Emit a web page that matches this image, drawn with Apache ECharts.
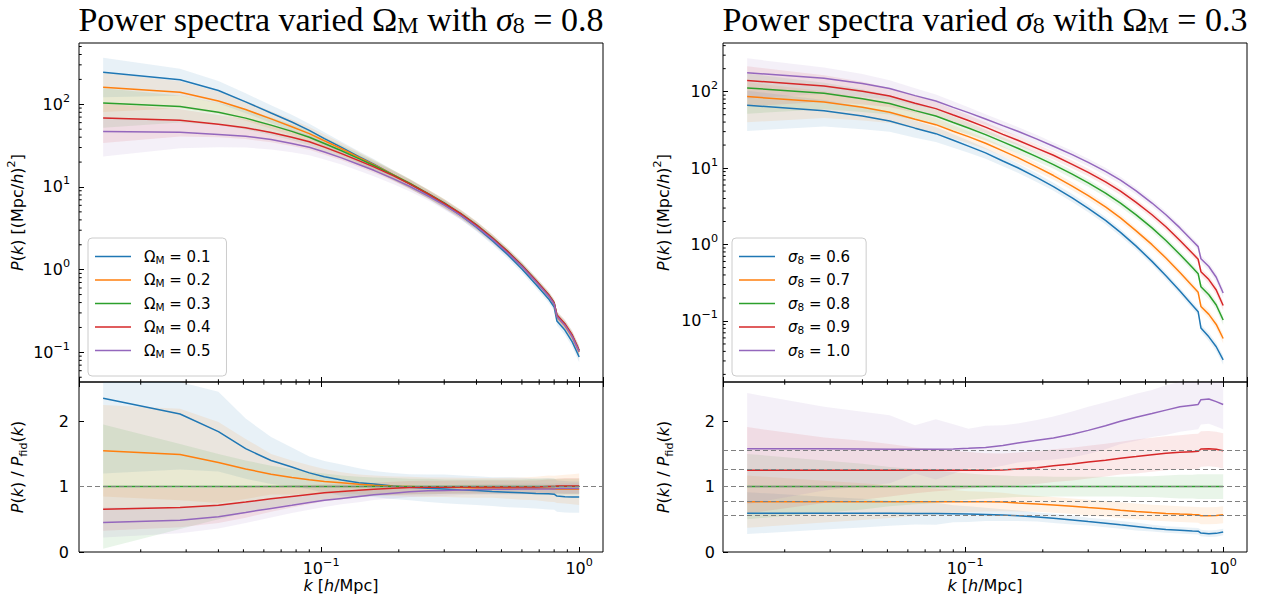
<!DOCTYPE html>
<html><head><meta charset="utf-8">
<script src="https://cdn.jsdelivr.net/npm/echarts@6/dist/echarts.min.js"></script>
<style>html,body{margin:0;padding:0;background:#fff}#c{width:1264px;height:601px}</style>
</head><body><div id="c"></div>
<script>
// ---------- data ----------
const k = [0.0143, 0.0284, 0.040, 0.051, 0.064, 0.077, 0.090, 0.103, 0.12, 0.14, 0.16, 0.19, 0.22, 0.26, 0.30, 0.35, 0.40, 0.46, 0.53, 0.60, 0.68, 0.76, 0.80, 0.82, 0.88, 0.94, 1.0];

const namesOm = ['Ω_M = 0.1', 'Ω_M = 0.2', 'Ω_M = 0.3', 'Ω_M = 0.4', 'Ω_M = 0.5'];
const namesSig = ['σ_8 = 0.6', 'σ_8 = 0.7', 'σ_8 = 0.8', 'σ_8 = 0.9', 'σ_8 = 1.0'];

// left: P(k) for varied Omega_M
const pOm1 = [244, 198, 147, 107, 78.4, 61.1, 48.4, 38.5, 30.1, 23.3, 18.9, 14.1, 11.0, 8.11, 6.18, 4.47, 3.27, 2.26, 1.51, 1.02, 0.663, 0.446, 0.354, 0.239, 0.186, 0.134, 0.088];
const pOm2 = [161, 140, 109.6, 86.4, 66.6, 53.6, 44.2, 36.2, 29.0, 22.8, 18.6, 14.1, 11.1, 8.24, 6.34, 4.63, 3.41, 2.39, 1.61, 1.10, 0.719, 0.486, 0.386, 0.269, 0.211, 0.154, 0.101];
const pOm3 = [104, 94, 80, 68, 56, 47, 40, 33.5, 27.4, 22.0, 18.2, 14.0, 11.1, 8.32, 6.40, 4.70, 3.48, 2.44, 1.65, 1.13, 0.741, 0.501, 0.40, 0.28, 0.22, 0.16, 0.105];
const pOm4 = [68.1, 63.9, 57.2, 52, 45.6, 40, 35.2, 30.3, 25.3, 20.8, 17.5, 13.7, 10.9, 8.24, 6.34, 4.68, 3.46, 2.43, 1.64, 1.12, 0.737, 0.501, 0.40, 0.283, 0.222, 0.162, 0.106];
const pOm5 = [46.8, 45.8, 43.2, 41.1, 37.4, 33.6, 30.3, 26.5, 22.5, 18.7, 15.9, 12.6, 10.2, 7.78, 6.02, 4.47, 3.32, 2.34, 1.58, 1.09, 0.715, 0.483, 0.386, 0.272, 0.213, 0.155, 0.102];
// relative half-width of the top-panel bands (left)
const relOm = [0.5, 0.36, 0.3, 0.27, 0.24, 0.22, 0.2, 0.19, 0.17, 0.16, 0.15, 0.14, 0.13, 0.12, 0.12, 0.11, 0.11, 0.11, 0.1, 0.1, 0.1, 0.1, 0.1, 0.11, 0.12, 0.13, 0.14];
// left: ratio P/P_fid
const rOm1 = [2.35, 2.11, 1.84, 1.58, 1.40, 1.30, 1.21, 1.15, 1.10, 1.06, 1.04, 1.01, 0.99, 0.975, 0.965, 0.95, 0.94, 0.925, 0.915, 0.905, 0.895, 0.89, 0.885, 0.855, 0.845, 0.84, 0.84];
const rOm2 = [1.55, 1.49, 1.37, 1.27, 1.19, 1.14, 1.105, 1.08, 1.06, 1.035, 1.02, 1.005, 1.0, 0.99, 0.99, 0.985, 0.98, 0.98, 0.975, 0.97, 0.97, 0.97, 0.965, 0.96, 0.96, 0.96, 0.96];
const rOm3 = [1, 1, 1, 1, 1, 1, 1, 1, 1, 1, 1, 1, 1, 1, 1, 1, 1, 1, 1, 1, 1, 1, 1, 1, 1, 1, 1];
const rOm4 = [0.655, 0.68, 0.715, 0.765, 0.815, 0.85, 0.88, 0.905, 0.925, 0.945, 0.96, 0.975, 0.985, 0.99, 0.99, 0.995, 0.995, 0.995, 0.995, 0.995, 0.995, 1.0, 1.0, 1.01, 1.01, 1.01, 1.01];
const rOm5 = [0.45, 0.487, 0.54, 0.605, 0.667, 0.715, 0.758, 0.79, 0.82, 0.85, 0.875, 0.9, 0.92, 0.935, 0.94, 0.95, 0.955, 0.96, 0.96, 0.965, 0.965, 0.965, 0.965, 0.97, 0.97, 0.97, 0.97];
// left: ratio band half-widths
const eOm1 = [1.15, 0.85, 0.61, 0.46, 0.36, 0.3, 0.25, 0.24, 0.24, 0.22, 0.2, 0.2, 0.2, 0.21, 0.22, 0.22, 0.22, 0.22, 0.23, 0.23, 0.23, 0.24, 0.24, 0.24, 0.24, 0.24, 0.24];
const eOm2 = [0.7, 0.7, 0.62, 0.46, 0.31, 0.26, 0.22, 0.19, 0.16, 0.15, 0.15, 0.15, 0.15, 0.15, 0.15, 0.15, 0.15, 0.15, 0.16, 0.17, 0.18, 0.2, 0.2, 0.21, 0.22, 0.23, 0.24];
const eOm3 = [0.95, 0.65, 0.5, 0.4, 0.32, 0.27, 0.23, 0.2, 0.17, 0.15, 0.14, 0.13, 0.12, 0.12, 0.11, 0.11, 0.11, 0.11, 0.11, 0.11, 0.12, 0.12, 0.12, 0.12, 0.12, 0.12, 0.12];
const eOm4 = [0.33, 0.3, 0.27, 0.24, 0.2, 0.17, 0.15, 0.13, 0.12, 0.11, 0.1, 0.1, 0.1, 0.1, 0.1, 0.1, 0.1, 0.1, 0.1, 0.1, 0.1, 0.11, 0.11, 0.11, 0.12, 0.12, 0.12];
const eOm5 = [0.23, 0.2, 0.18, 0.16, 0.14, 0.12, 0.11, 0.1, 0.09, 0.09, 0.08, 0.08, 0.08, 0.08, 0.08, 0.08, 0.08, 0.08, 0.08, 0.08, 0.08, 0.08, 0.08, 0.08, 0.08, 0.08, 0.08];
const refOm = [1];

// right: P(k) for varied sigma_8
const pSig1 = [66.5, 56.4, 48.0, 41.4, 33.3, 28.2, 23.1, 19.4, 15.8, 12.4, 10.1, 7.49, 5.72, 4.08, 2.98, 2.07, 1.44, 0.952, 0.602, 0.39, 0.247, 0.161, 0.132, 0.081, 0.062, 0.046, 0.031];
const pSig2 = [86.2, 73.2, 62.4, 53.9, 43.5, 37, 30.4, 25.8, 21.1, 16.8, 13.7, 10.3, 7.99, 5.82, 4.35, 3.10, 2.23, 1.51, 0.995, 0.667, 0.43, 0.287, 0.237, 0.155, 0.122, 0.090, 0.059];
const pSig3 = [112, 95, 81, 70, 56.5, 48, 39.5, 33.5, 27.4, 22.0, 18.2, 14.0, 11.1, 8.32, 6.40, 4.70, 3.48, 2.44, 1.65, 1.13, 0.741, 0.501, 0.416, 0.28, 0.22, 0.162, 0.103];
const pSig4 = [140, 118.8, 101.3, 87.5, 70.6, 60, 49.4, 41.9, 34.3, 27.6, 23.1, 18.1, 14.7, 11.2, 8.8, 6.6, 4.99, 3.56, 2.45, 1.71, 1.13, 0.769, 0.641, 0.441, 0.348, 0.254, 0.159];
const pSig5 = [177, 150, 127.6, 110, 88.7, 75.4, 62.2, 53.1, 43.8, 35.9, 30.3, 23.9, 19.3, 15.0, 11.9, 9.07, 6.96, 5.03, 3.49, 2.45, 1.65, 1.12, 0.939, 0.652, 0.515, 0.373, 0.232];
const relSig = [0.54, 0.38, 0.33, 0.28, 0.25, 0.22, 0.2, 0.18, 0.16, 0.15, 0.14, 0.13, 0.12, 0.12, 0.11, 0.11, 0.11, 0.1, 0.1, 0.1, 0.1, 0.1, 0.1, 0.11, 0.12, 0.13, 0.14];
const rSig1 = [0.594, 0.594, 0.593, 0.592, 0.59, 0.588, 0.585, 0.58, 0.575, 0.565, 0.555, 0.535, 0.515, 0.49, 0.465, 0.44, 0.415, 0.39, 0.365, 0.345, 0.333, 0.322, 0.318, 0.29, 0.28, 0.285, 0.305];
const rSig2 = [0.77, 0.77, 0.77, 0.77, 0.77, 0.77, 0.77, 0.77, 0.77, 0.765, 0.75, 0.735, 0.72, 0.70, 0.68, 0.66, 0.64, 0.62, 0.603, 0.59, 0.58, 0.572, 0.569, 0.555, 0.553, 0.558, 0.57];
const rSig3 = [1, 1, 1, 1, 1, 1, 1, 1, 1, 1, 1, 1, 1, 1, 1, 1, 1, 1, 1, 1, 1, 1, 1, 1, 1, 1, 1];
const rSig4 = [1.25, 1.25, 1.25, 1.25, 1.25, 1.25, 1.25, 1.25, 1.25, 1.255, 1.27, 1.29, 1.32, 1.345, 1.375, 1.405, 1.435, 1.46, 1.487, 1.51, 1.525, 1.535, 1.54, 1.575, 1.58, 1.57, 1.548];
const rSig5 = [1.58, 1.58, 1.575, 1.57, 1.57, 1.57, 1.575, 1.585, 1.60, 1.63, 1.667, 1.71, 1.743, 1.80, 1.86, 1.93, 2.0, 2.06, 2.117, 2.17, 2.22, 2.245, 2.256, 2.33, 2.34, 2.30, 2.256];
const eSig1 = [0.32, 0.25, 0.22, 0.19, 0.17, 0.17, 0.13, 0.12, 0.1, 0.09, 0.08, 0.07, 0.07, 0.07, 0.06, 0.06, 0.06, 0.06, 0.05, 0.05, 0.05, 0.05, 0.05, 0.05, 0.05, 0.05, 0.05];
const eSig2 = [0.4, 0.32, 0.28, 0.25, 0.22, 0.2, 0.18, 0.16, 0.15, 0.14, 0.13, 0.12, 0.12, 0.12, 0.12, 0.12, 0.12, 0.12, 0.12, 0.12, 0.12, 0.12, 0.12, 0.13, 0.13, 0.13, 0.13];
const eSig3 = [0.5, 0.4, 0.35, 0.3, 0.27, 0.25, 0.22, 0.2, 0.18, 0.17, 0.16, 0.16, 0.15, 0.15, 0.15, 0.15, 0.15, 0.16, 0.16, 0.17, 0.18, 0.18, 0.19, 0.19, 0.19, 0.19, 0.19];
const eSig4 = [0.66, 0.5, 0.45, 0.4, 0.35, 0.32, 0.3, 0.28, 0.26, 0.25, 0.25, 0.25, 0.25, 0.25, 0.25, 0.25, 0.25, 0.26, 0.26, 0.26, 0.26, 0.27, 0.27, 0.27, 0.27, 0.27, 0.27];
const eSig5 = [0.85, 0.64, 0.57, 0.52, 0.37, 0.46, 0.38, 0.3, 0.33, 0.31, 0.3, 0.31, 0.33, 0.35, 0.36, 0.36, 0.35, 0.36, 0.36, 0.38, 0.38, 0.38, 0.38, 0.38, 0.38, 0.38, 0.38];
const refSig = [0.5625, 0.765625, 1, 1.265625, 1.5625];

// tick positions
const xMinor = [0.02, 0.03, 0.04, 0.05, 0.06, 0.07, 0.08, 0.09, 0.2, 0.3, 0.4, 0.5, 0.6, 0.7, 0.8, 0.9];
const yMinorL = [0.05, 0.06, 0.07, 0.08, 0.09, 0.2, 0.3, 0.4, 0.5, 0.6, 0.7, 0.8, 0.9, 2, 3, 4, 5, 6, 7, 8, 9, 20, 30, 40, 50, 60, 70, 80, 90, 200, 300, 400, 500];
const yMinorR = [0.02, 0.03, 0.04, 0.05, 0.06, 0.07, 0.08, 0.09, 0.2, 0.3, 0.4, 0.5, 0.6, 0.7, 0.8, 0.9, 2, 3, 4, 5, 6, 7, 8, 9, 20, 30, 40, 50, 60, 70, 80, 90, 200, 300, 400];

// ---------- styling / building ----------
const COLORS = ['#1f77b4', '#ff7f0e', '#2ca02c', '#d62728', '#9467bd'];
const FONT = 'DejaVu Sans';
const XMIN = 0.01153, XMAX = 1.237;

function rgba(hex, a) {
  const n = parseInt(hex.slice(1), 16);
  return 'rgba(' + (n >> 16) + ',' + ((n >> 8) & 255) + ',' + (n & 255) + ',' + a + ')';
}
function bandSeries(xi, yi, lo, hi, color) {
  return {
    type: 'custom', xAxisIndex: xi, yAxisIndex: yi, silent: true, z: 1,
    data: k.map((kv, i) => [kv, lo[i], hi[i]]),
    encode: { x: 0, y: [1, 2] },
    renderItem: function (params, api) {
      if (params.dataIndex !== 0) return null;
      const cs = params.coordSys;
      const top = [], bot = [];
      for (let i = 0; i < k.length; i++) {
        top.push(api.coord([k[i], hi[i]]));
        bot.push(api.coord([k[i], lo[i] > 0 ? lo[i] : 1e-9]));
      }
      const pts = top.concat(bot.reverse()).map(p => [p[0], Math.min(Math.max(p[1], cs.y), cs.y + cs.height)]);
      return { type: 'polygon', shape: { points: pts }, style: { fill: rgba(color, 0.1), stroke: null } };
    }
  };
}
function lineSeries(name, xi, yi, ys, color, z, extra) {
  const s = {
    type: 'line', xAxisIndex: xi, yAxisIndex: yi, data: k.map((kv, i) => [kv, ys[i]]),
    symbol: 'none', showSymbol: false, clip: true, z: z,
    lineStyle: { width: 1.5, color: color }, itemStyle: { color: color }, emphasis: { disabled: true }
  };
  if (name) s.name = name;
  return Object.assign(s, extra || {});
}
function xMinorSeries(xi, yi, yRef, both) {
  return {
    type: 'custom', xAxisIndex: xi, yAxisIndex: yi, silent: true, z: 10,
    data: xMinor.map(v => [v, yRef]),
    renderItem: function (params, api) {
      const cs = params.coordSys;
      const x = api.coord([api.value(0), yRef])[0];
      const yb = cs.y + cs.height;
      const ch = [{ type: 'line', shape: { x1: x, y1: yb, x2: x, y2: yb - 2.7 }, style: { stroke: '#000', lineWidth: 1 } }];
      if (both) ch.push({ type: 'line', shape: { x1: x, y1: cs.y, x2: x, y2: cs.y + 2.7 }, style: { stroke: '#000', lineWidth: 1 } });
      return { type: 'group', children: ch };
    }
  };
}
function yMinorSeries(xi, yi, vals) {
  return {
    type: 'custom', xAxisIndex: xi, yAxisIndex: yi, silent: true, z: 10,
    data: vals.map(v => [0.1, v]),
    renderItem: function (params, api) {
      const cs = params.coordSys;
      const y = api.coord([0.1, api.value(1)])[1];
      return { type: 'line', shape: { x1: cs.x, y1: y, x2: cs.x + 2.7, y2: y }, style: { stroke: '#000', lineWidth: 1 } };
    }
  };
}

function makeRich(fs, lh) {
  return {
    n: { fontFamily: FONT, fontSize: fs, color: '#000', lineHeight: lh, verticalAlign: 'middle' },
    i: { fontFamily: FONT, fontSize: fs, color: '#000', fontStyle: 'italic', lineHeight: lh, verticalAlign: 'middle' },
    sub: { fontFamily: FONT, fontSize: fs * 0.7, color: '#000', lineHeight: fs * 0.7, verticalAlign: 'bottom' },
    sup: { fontFamily: FONT, fontSize: fs * 0.7, color: '#000', lineHeight: fs * 0.7, verticalAlign: 'top' },
    sp: { width: 8 }
  };
}
const richAxis = makeRich(16, 23);
const richLegend = makeRich(15, 17);
function logFmt(v) {
  const e = Math.round(Math.log10(v));
  return '{n|10}{sup|' + (e < 0 ? '\u2212' + (-e) : e) + '}';
}

function xAxisDef(grid, pos, labels, name) {
  const a = {
    type: 'log', logBase: 10, gridIndex: grid, position: pos, min: XMIN, max: XMAX,
    axisLine: { show: false }, splitLine: { show: false },
    axisTick: { show: true, inside: true, length: 5, lineStyle: { color: '#000', width: 1 } },
    axisLabel: { show: labels, formatter: logFmt, margin: 5, rich: richAxis, showMinLabel: false, showMaxLabel: false }
  };
  if (name) {
    a.name = '{i|k}{n| [}{i|h}{n|/Mpc]}';
    a.nameLocation = 'middle'; a.nameGap = 19;
    a.nameTextStyle = { rich: richAxis };
  }
  return a;
}
function yLogDef(grid, min, max, margin, gap) {
  return {
    type: 'log', logBase: 10, gridIndex: grid, min: min, max: max,
    axisLine: { show: false }, splitLine: { show: false },
    axisTick: { show: true, inside: true, length: 5, lineStyle: { color: '#000', width: 1 } },
    axisLabel: { formatter: logFmt, margin: margin, rich: richAxis, showMinLabel: false, showMaxLabel: false },
    name: '{i|P}{n|(}{i|k}{n|) [(Mpc/}{i|h}{n|)}{sup|2}{n|]}', nameLocation: 'middle', nameGap: gap, nameRotate: 90,
    nameTextStyle: { rich: richAxis }
  };
}
function yRatioDef(grid, margin, gap) {
  return {
    type: 'value', gridIndex: grid, min: 0, max: 2.6, interval: 1,
    axisLine: { show: false }, splitLine: { show: false },
    axisTick: { show: true, inside: true, length: 5, lineStyle: { color: '#000', width: 1 } },
    axisLabel: { fontFamily: FONT, fontSize: 16, color: '#000', margin: margin, showMaxLabel: false },
    name: '{i|P}{n|(}{i|k}{n|) / }{i|P}{sub|fid}{n|(}{i|k}{n|)}', nameLocation: 'middle', nameGap: gap, nameRotate: 90,
    nameTextStyle: { rich: richAxis }
  };
}

const gridStyle = { show: true, borderColor: '#000', borderWidth: 1, backgroundColor: 'transparent' };
const grids = [
  Object.assign({ left: 79, top: 43, width: 524, height: 339 }, gridStyle),
  Object.assign({ left: 79, top: 382, width: 524, height: 170 }, gridStyle),
  Object.assign({ left: 723, top: 43, width: 524, height: 339 }, gridStyle),
  Object.assign({ left: 723, top: 382, width: 524, height: 170 }, gridStyle)
];
const xAxes = [
  xAxisDef(0, 'bottom', false, false),
  xAxisDef(1, 'bottom', true, true),
  xAxisDef(1, 'top', false, false),
  xAxisDef(2, 'bottom', false, false),
  xAxisDef(3, 'bottom', true, true),
  xAxisDef(3, 'top', false, false)
];
const yAxes = [
  yLogDef(0, 0.0438, 551, 9, 50),
  yRatioDef(1, 10, 50),
  yLogDef(2, 0.0159, 433, 5, 48),
  yRatioDef(3, 8, 48)
];

const series = [];
const pOm = [pOm1, pOm2, pOm3, pOm4, pOm5];
const rOm = [rOm1, rOm2, rOm3, rOm4, rOm5];
const eOm = [eOm1, eOm2, eOm3, eOm4, eOm5];
const pSig = [pSig1, pSig2, pSig3, pSig4, pSig5];
const rSig = [rSig1, rSig2, rSig3, rSig4, rSig5];
const eSig = [eSig1, eSig2, eSig3, eSig4, eSig5];

function addPanel(names, P, rel, R, E, refs, xTop, yTop, xBot, yBot) {
  for (let s = 0; s < 5; s++) {
    const c = COLORS[s];
    series.push(bandSeries(xTop, yTop, P[s].map((v, i) => v * (1 - rel[i])), P[s].map((v, i) => v * (1 + rel[i])), c));
    series.push(bandSeries(xBot, yBot, R[s].map((v, i) => v - E[s][i]), R[s].map((v, i) => v + E[s][i]), c));
  }
  for (let s = 0; s < 5; s++) {
    const c = COLORS[s];
    series.push(lineSeries(names[s], xTop, yTop, P[s], c, 3));
    const extra = (s === 2) ? {
      markLine: {
        silent: true, symbol: 'none', animation: false, label: { show: false },
        lineStyle: { type: [5, 3], color: '#808080', width: 1 },
        emphasis: { disabled: true },
        data: refs.map(v => ({ yAxis: v }))
      }
    } : null;
    series.push(lineSeries(null, xBot, yBot, R[s], c, 3, extra));
  }
}
addPanel(namesOm, pOm, relOm, rOm, eOm, refOm, 0, 0, 1, 1);
addPanel(namesSig, pSig, relSig, rSig, eSig, refSig, 3, 2, 4, 3);

series.push(xMinorSeries(0, 0, 1, false));
series.push(xMinorSeries(1, 1, 1, true));
series.push(xMinorSeries(3, 2, 1, false));
series.push(xMinorSeries(4, 3, 1, true));
series.push(yMinorSeries(0, 0, yMinorL));
series.push(yMinorSeries(3, 2, yMinorR));

function legendDef(left, names, greek, italic) {
  return {
    left: left, top: 238, orient: 'vertical', data: names,
    icon: 'rect', itemWidth: 36, itemHeight: 1.6, itemGap: 7.5,
    padding: [11, 16, 17, 7],
    backgroundColor: 'rgba(255,255,255,0.8)', borderColor: '#cccccc', borderWidth: 1, borderRadius: 4,
    selectedMode: false,
    textStyle: { fontFamily: FONT, fontSize: 15, color: '#000', rich: richLegend },
    formatter: function (name) {
      const v = name.split('= ')[1];
      return '{sp|}{' + (italic ? 'i' : 'n') + '|' + greek + '}{sub|' + (italic ? '8' : 'M') + '}{n| = ' + v + '}';
    }
  };
}

const TFS = 34;
const titleRich = {
  n: { fontFamily: 'Liberation Serif', fontSize: TFS, fontWeight: 'normal', color: '#000', lineHeight: 36, verticalAlign: 'middle' },
  i: { fontFamily: 'Liberation Serif', fontSize: TFS, fontWeight: 'normal', color: '#000', fontStyle: 'italic', lineHeight: 36, verticalAlign: 'middle' },
  sub: { fontFamily: 'Liberation Serif', fontSize: 24, fontWeight: 'normal', color: '#000', lineHeight: 19, verticalAlign: 'bottom' }
};

const option = {
  animation: false,
  backgroundColor: '#fff',
  title: [
    { text: '{n|Power spectra varied Ω}{sub|M}{n| with }{i|σ}{sub|8}{n| = 0.8}', left: 336, top: -4, textAlign: 'center', textStyle: { fontWeight: 'normal', rich: titleRich } },
    { text: '{n|Power spectra varied }{i|σ}{sub|8}{n| with Ω}{sub|M}{n| = 0.3}', left: 980, top: -4, textAlign: 'center', textStyle: { fontWeight: 'normal', rich: titleRich } }
  ],
  legend: [legendDef(88, namesOm, 'Ω', false), legendDef(732, namesSig, 'σ', true)],
  grid: grids,
  xAxis: xAxes,
  yAxis: yAxes,
  series: series
};

const chart = echarts.init(document.getElementById('c'), null, { renderer: 'svg', width: 1264, height: 601 });
chart.setOption(option);
</script>
</body></html>
